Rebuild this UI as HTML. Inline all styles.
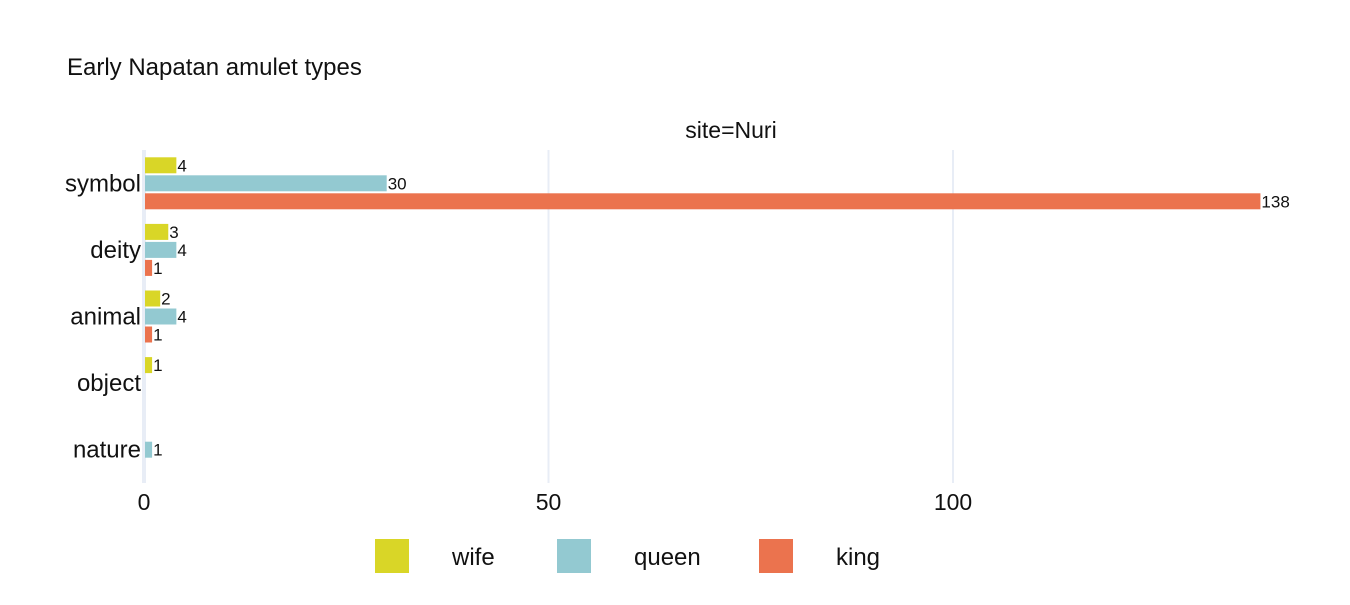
<!DOCTYPE html>
<html><head><meta charset="utf-8"><style>
body{margin:0;background:#fff;font-family:"Liberation Sans",sans-serif;}
svg text{font-family:"Liberation Sans",sans-serif;}
</style></head><body>
<svg id="chart" width="1350" height="600" xmlns="http://www.w3.org/2000/svg">
<text x="67" y="75" font-size="24" fill="#111">Early Napatan amulet types</text>
<text x="731" y="138" font-size="23" text-anchor="middle" fill="#111">site=Nuri</text>
<g id="grid"></g><g id="bars"></g><g id="axes"></g><g id="legend"></g>
</svg>
<script>
const categories=["symbol","deity","animal","object","nature"];
const seriesNames=["wife","queen","king"];
const wifeValues=[4,3,2,1,0];
const queenValues=[30,4,4,0,1];
const kingValues=[138,1,1,0,0];
const xTicks=[0,50,100];
const colors=["#d9d627","#93c9d1","#eb734e"];
const NS="http://www.w3.org/2000/svg";
const x0=144,x1=953,plotTop=150,plotBottom=483;
const xs=v=>x0+(x1-x0)*v/100;
const band=(plotBottom-plotTop)/categories.length;
const yc=i=>plotTop+band*(i+0.5);
function mk(t,a,p){const e=document.createElementNS(NS,t);for(const k in a)e.setAttribute(k,a[k]);document.getElementById(p).appendChild(e);return e;}
xTicks.forEach(t=>{
 const g=mk("line",{x1:xs(t),x2:xs(t),y1:plotTop,y2:plotBottom,stroke:"#e8edf6","stroke-width":t===0?4:2},"grid");
 
 
 const l=mk("text",{x:xs(t),y:510,"font-size":23,"text-anchor":"middle",fill:"#111"},"axes");
 l.textContent=t;
 
 
});
categories.forEach((c,i)=>{
 const l=mk("text",{x:141,y:yc(i)+8,"font-size":24,"text-anchor":"end",fill:"#111"},"axes");
 l.textContent=c;
 
 
});
const all=[wifeValues,queenValues,kingValues];
all.forEach((vals,s)=>{
 vals.forEach((v,i)=>{
  if(!v)return;
  const y=yc(i)+(s-1)*18-8;
  const r=mk("rect",{x:x0+1,y:y,width:xs(v)-x0-1,height:16,fill:colors[s]},"bars");
  
  
  const t=mk("text",{x:xs(v)+1,y:y+14,"font-size":17,fill:"#111"},"bars");
  t.textContent=v;
  
  
 });
});
const lx=[375,557,759];
seriesNames.forEach((n,s)=>{
 const r=mk("rect",{x:lx[s],y:539,width:34,height:34,fill:colors[s]},"legend");
 
 
 const t=mk("text",{x:lx[s]+77,y:565,"font-size":24,fill:"#111"},"legend");
 t.textContent=n;
 
 
});
</script>
</body></html>
